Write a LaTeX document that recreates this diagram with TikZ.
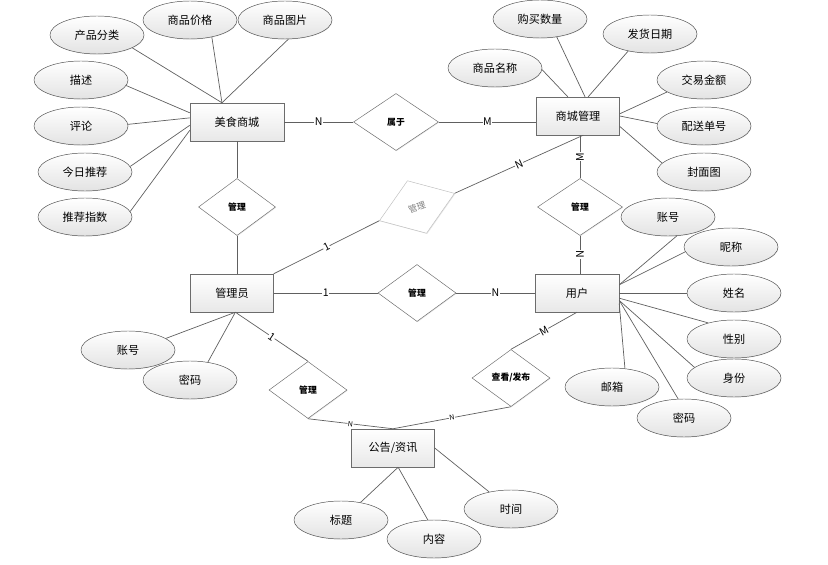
\documentclass[tikz,border=0pt]{standalone}
\usepackage{fontspec}
\setmainfont{Noto Sans CJK SC}
\usetikzlibrary{shapes,positioning,shadows}

\begin{document}
\begin{tikzpicture}[x=0.03cm,y=-0.03cm]
    \tikzstyle{entity} = [rectangle, draw=gray!85!black, top color=white, bottom color=gray!18, minimum width=2.49cm, minimum height=1.14cm, inner sep=0pt, font=\fontsize{9.5}{11}\selectfont, drop shadow={opacity=0.3, shadow xshift=0.7pt, shadow yshift=-0.7pt}]
    \tikzstyle{attr} = [ellipse, draw=gray!60!black, top color=white, bottom color=gray!22, minimum width=2.82cm, minimum height=1.14cm, inner sep=0pt, font=\fontsize{9.5}{11}\selectfont, drop shadow={opacity=0.15, shadow xshift=0.5pt, shadow yshift=-0.5pt}]
    \tikzstyle{rel} = [diamond, draw=gray!85!black, fill=white, minimum width=2.34cm, minimum height=1.71cm, inner sep=0pt, font=\fontsize{7.5}{9}\selectfont\bfseries, drop shadow={opacity=0.2, shadow xshift=0.6pt, shadow yshift=-0.6pt}]
    \tikzstyle{link} = [draw=gray!75!black, line width=0.6pt]
    \tikzstyle{card} = [fill=white, inner sep=0.4pt, font=\fontsize{9}{10}\selectfont]
    \tikzstyle{smallcard} = [card, font=\fontsize{6}{7}\selectfont]

    \useasboundingbox (0,0) rectangle (828,565);

    % entities
    \node [entity, minimum width=2.82cm] (msc) at (237,122) {美食商城};
    \node [entity] (scg) at (578,116) {商城管理};
    \node [entity] (adm) at (232,293) {管理员};
    \node [entity, minimum width=2.52cm] (user) at (577,293) {用户};
    \node [entity] (ann) at (393,448) {公告/资讯};

    % relations
    \node [rel, minimum width=2.55cm] (belong) at (396,122) {属于};
    \node [rel, minimum width=2.31cm] (mgrA) at (237,207) {管理};
    \node [rel, minimum width=2.55cm] (mgrB) at (580,207) {管理};
    \node [rel] (mgrC) at (417,293) {管理};
    \node [rel] (mgrD) at (308,390) {管理};
    \node [rel] (view) at (511,378) {查看/发布};
    \node [rel, rotate=20, minimum width=2.4cm, minimum height=1.68cm, draw=gray!50, text=gray, font=\fontsize{7.5}{9}\selectfont] (mgrE) at (417,207) {管理};

    % attributes
    \node [attr] (cat) at (97,35) {产品分类};
    \node [attr] (price) at (190,20) {商品价格};
    \node [attr] (pic) at (285,20) {商品图片};
    \node [attr] (desc) at (81,80) {描述};
    \node [attr] (cmt) at (81,126) {评论};
    \node [attr] (today) at (85,172) {今日推荐};
    \node [attr] (idx) at (85,217) {推荐指数};

    \node [attr] (qty) at (540,19) {购买数量};
    \node [attr] (ship) at (650,34) {发货日期};
    \node [attr] (gname) at (495,68) {商品名称};
    \node [attr] (amt) at (704,80) {交易金额};
    \node [attr] (dno) at (704,126) {配送单号};
    \node [attr] (cover) at (704,172) {封面图};

    \node [attr] (uacc) at (668,217) {账号};
    \node [attr] (nick) at (731,247) {昵称};
    \node [attr] (uname) at (734,293) {姓名};
    \node [attr] (sex) at (734,339) {性别};
    \node [attr] (role) at (734,378) {身份};
    \node [attr] (mail) at (612,387) {邮箱};
    \node [attr] (upwd) at (684,418) {密码};

    \node [attr] (aacc) at (128,350) {账号};
    \node [attr] (apwd) at (190,380) {密码};

    \node [attr] (title) at (341,520) {标题};
    \node [attr] (body) at (434,539) {内容};
    \node [attr] (time) at (511,509) {时间};

    % attribute links
    \draw [link] (cat.340) -- (msc.128);
    \draw [link] (price.322) -- (msc.128);
    \draw [link] (pic.280) -- (msc.128);
    \draw [link] (desc.353) -- (msc.169);
    \draw [link] (cmt.2) -- (msc.175);
    \draw [link] (today.7) -- (msc.184);
    \draw [link] (idx.7) -- (msc.190);

    \draw [link] (gname.358) -- (scg.118);
    \draw [link] (qty.313) -- (scg.70);
    \draw [link] (ship.218) -- (scg.62);
    \draw [link] (amt.198) -- (scg.3);
    \draw [link] (dno.177) -- (scg.0);
    \draw [link] (cover.168) -- (scg.346);

    \draw [link] (uacc.295) -- (user.11);
    \draw [link] (nick.186) -- (user.11);
    \draw [link] (uname) -- (user.0);
    \draw [link] (sex.148) -- (user.353);
    \draw [link] (role.165) -- (user.350);
    \draw [link] (upwd.107) -- (user.350);
    \draw [link] (mail.55) -- (user.346);

    \draw [link] (aacc.17) -- (adm.280);
    \draw [link] (apwd.45) -- (adm.280);

    \draw [link] (title.42) -- (ann.285);
    \draw [link] (body.108) -- (ann.285);
    \draw [link] (time.142) -- (ann.east);

    % relation links
    \draw [link] (msc) -- node[card] {N} (belong);
    \draw [link] (belong.east) -- node[card] {M} (belong.east -| scg.west);
    \draw [link] (msc) -- (mgrA);
    \draw [link] (mgrA) -- (mgrA.south |- adm.north);
    \draw [link] (mgrB.north) -- node[card, sloped] {M} (mgrB.north |- scg.south);
    \draw [link] (mgrB.south) -- node[card, sloped] {N} (mgrB.south |- user.north);
    \draw [link] (adm) -- node[card] {1} (mgrC);
    \draw [link] (mgrC) -- node[card] {N} (user);
    \draw [link] (adm.north east) -- node[card, sloped] {1} (mgrE.west);
    \draw [link] (mgrE.east) -- node[card, sloped] {N} (scg.285);
    \draw [link] (adm.280) -- node[card, sloped] {1} (mgrD.north);
    \draw [link] (mgrD.south) -- node[smallcard, sloped] {N} (ann.north);
    \draw [link] (user.south) -- node[card, sloped] {M} (view.north);
    \draw [link] (view.south) -- node[smallcard, sloped] {N} (ann.north);
\end{tikzpicture}
\end{document}
